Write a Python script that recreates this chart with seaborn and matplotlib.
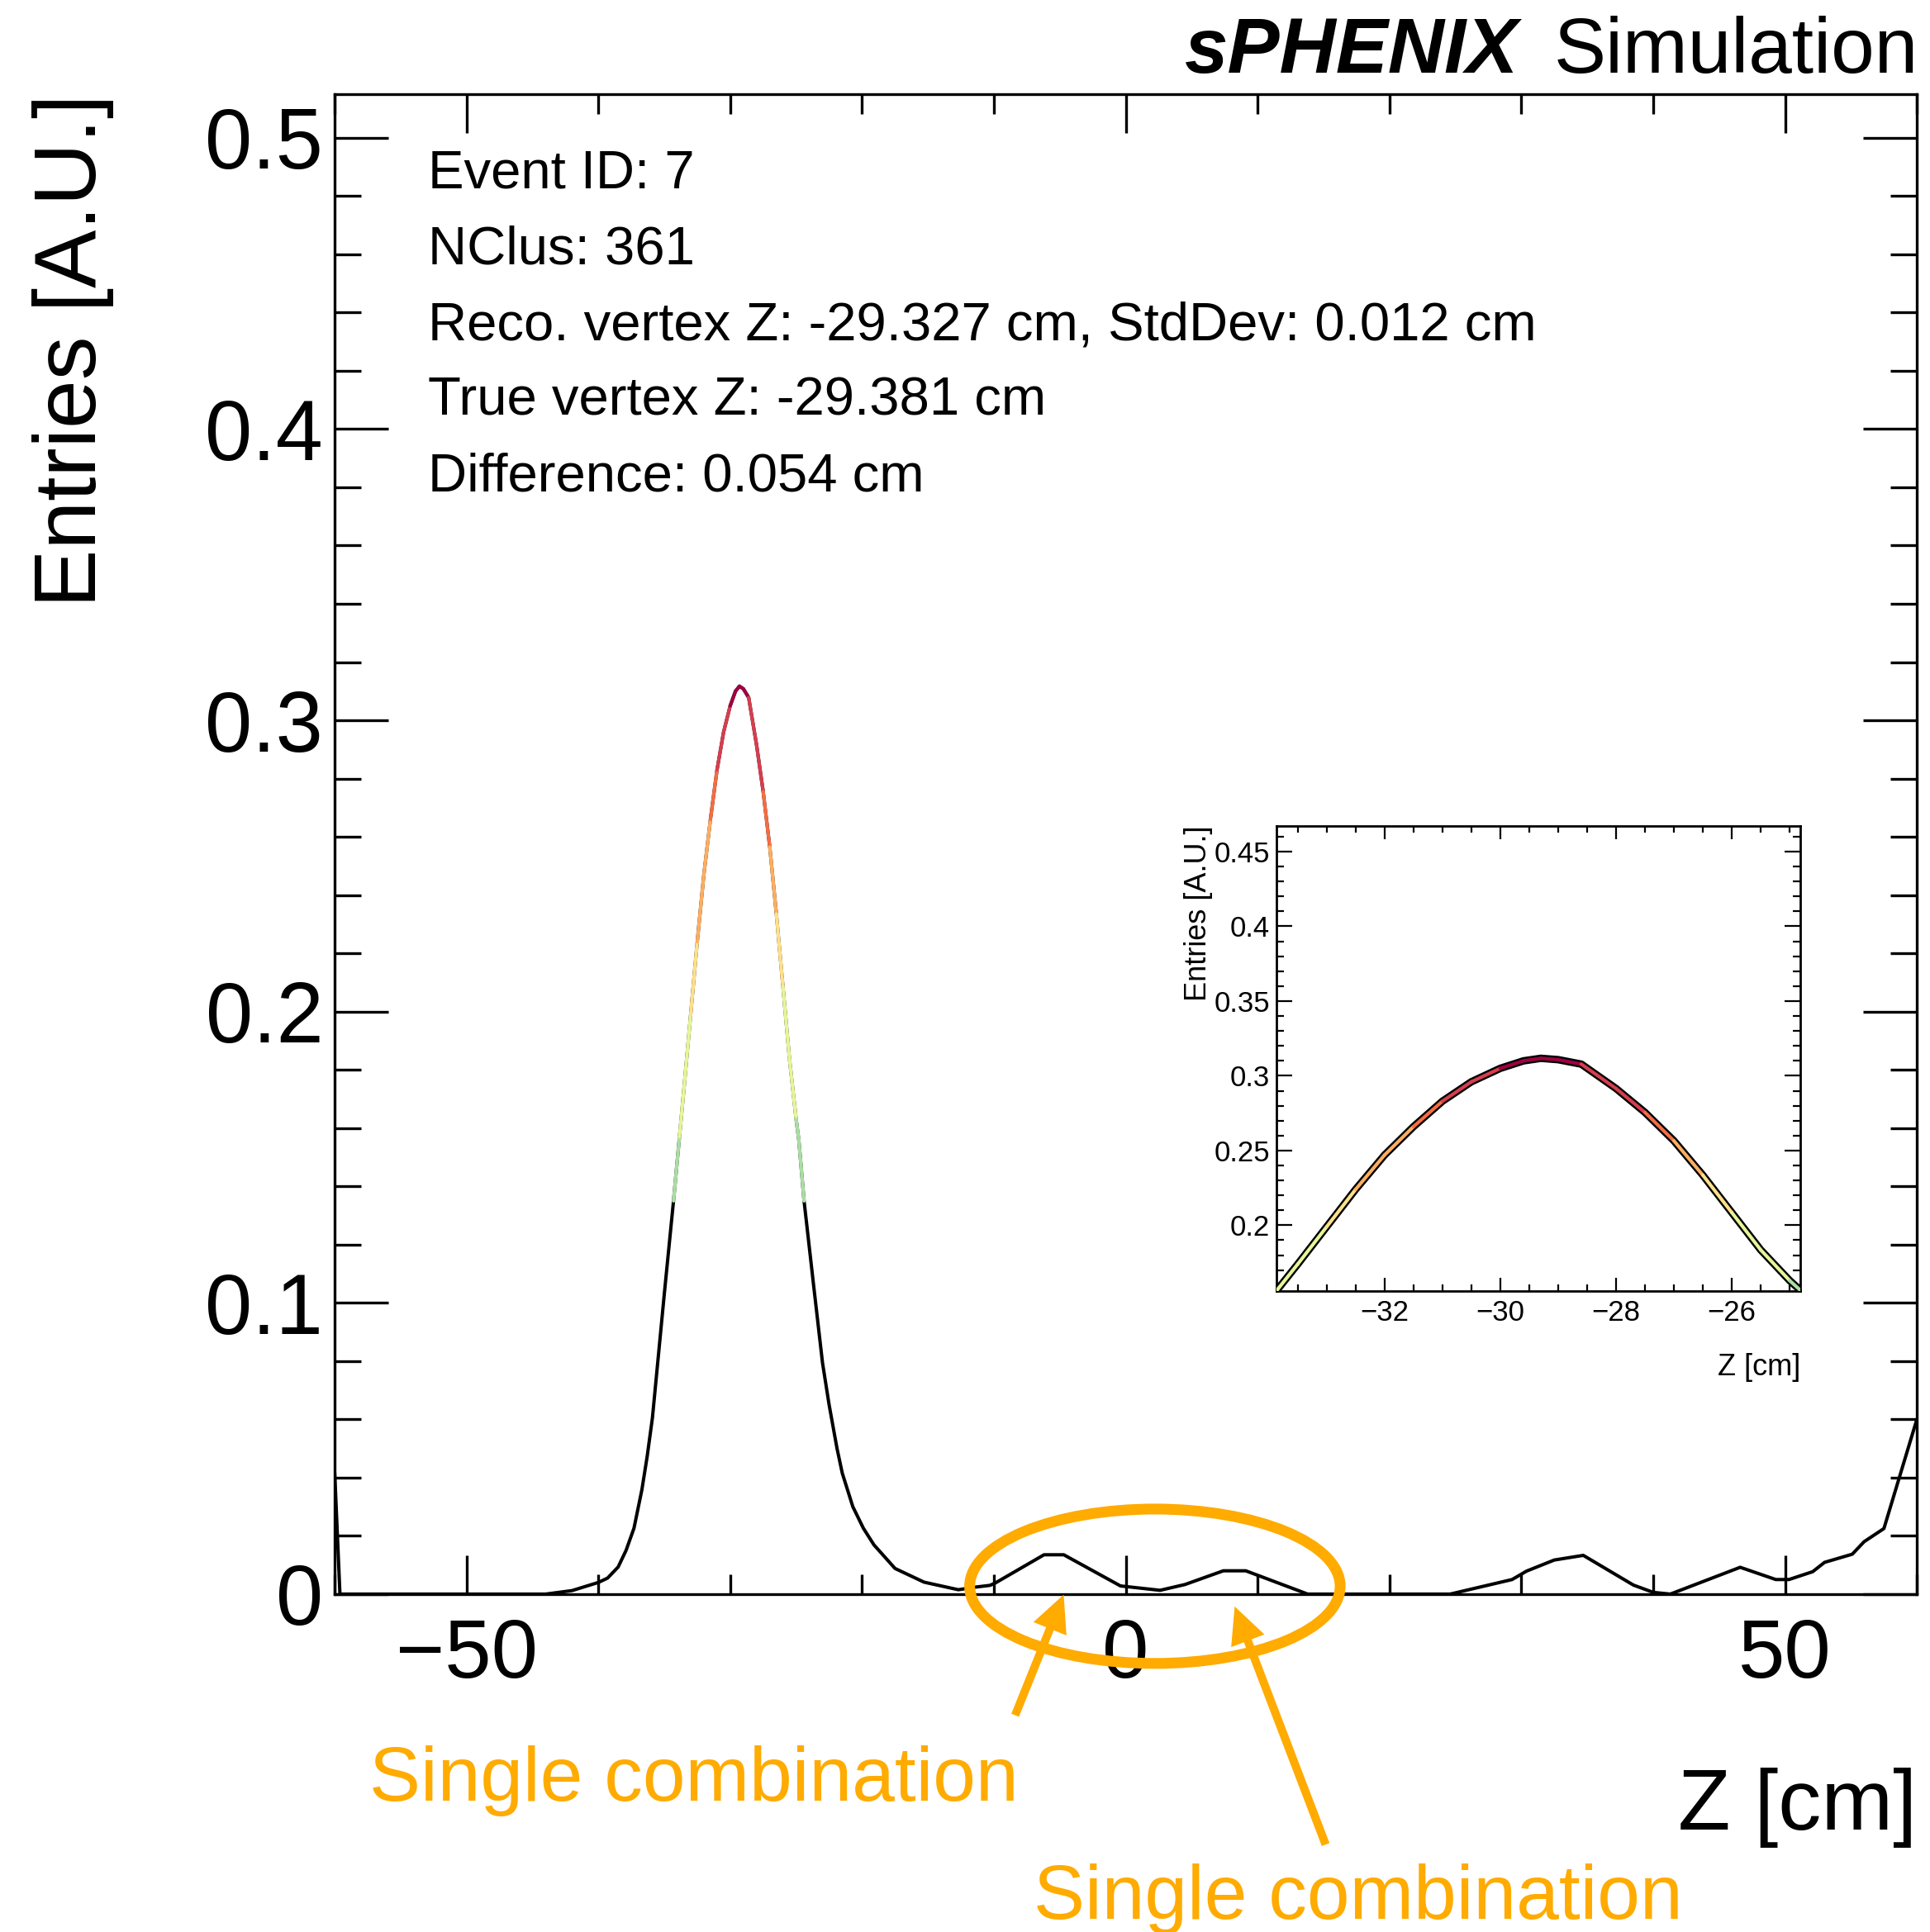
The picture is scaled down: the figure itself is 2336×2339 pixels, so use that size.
import numpy as np
import pandas as pd
import seaborn as sns
import matplotlib.pyplot as plt
from matplotlib.collections import LineCollection
from matplotlib.colors import ListedColormap, BoundaryNorm
from matplotlib.patches import Ellipse, FancyArrowPatch
from matplotlib.ticker import MultipleLocator, FuncFormatter

# vertex finder output (Z in cm vs entries)
z_cm = [-60.0, -59.6, -44.0, -42.0, -40.0, -39.3, -38.5, -37.9, -37.3, -36.7,
        -36.3, -35.9, -35.5, -35.0, -34.3, -33.85, -33.5, -33.0, -32.5, -32.0,
        -31.5, -31.0, -30.5, -30.0, -29.6, -29.3, -29.0, -28.6, -28.0, -27.5,
        -27.0, -26.5, -26.0, -25.5, -25.0, -24.8, -24.4, -23.7, -23.0, -22.5,
        -21.9, -21.5, -20.7, -19.9, -19.1, -17.5, -15.3, -12.7, -11.4, -10.3,
        -9.9, -6.2, -4.7, -0.4, 2.6, 4.5, 7.4, 9.1, 10.1, 13.8,
        24.6, 29.3, 30.4, 32.5, 34.7, 38.5, 40.0, 41.3, 46.6, 49.3,
        50.3, 52.1, 53.0, 55.1, 56.0, 57.5, 60.0]
entries = [0.042, 0.0, 0.0, 0.0012, 0.0040, 0.0055, 0.0093, 0.0150, 0.0226, 0.0358,
           0.0472, 0.0605, 0.0794, 0.103, 0.135, 0.157, 0.174, 0.199, 0.224, 0.247,
           0.266, 0.283, 0.296, 0.305, 0.3100, 0.3117, 0.3108, 0.3078, 0.2915, 0.2755,
           0.2565, 0.2335, 0.2085, 0.1835, 0.163, 0.156, 0.135, 0.107, 0.0794, 0.065,
           0.050, 0.0415, 0.030, 0.0226, 0.0169, 0.0088, 0.0041, 0.0015, 0.0024, 0.0030,
           0.0038, 0.0135, 0.0135, 0.0028, 0.0013, 0.0033, 0.0080, 0.0080, 0.0063, 0.0,
           0.0, 0.0050, 0.0079, 0.0117, 0.0133, 0.0031, 0.0006, 0.0, 0.0092, 0.0050,
           0.0050, 0.0077, 0.0109, 0.0137, 0.0180, 0.0225, 0.060]

# coloured fit section and its colour bands (by height)
fit_range = (-34.3, -24.4)
band_edges = [0.13, 0.165, 0.199, 0.232, 0.260, 0.282, 0.301, 0.32]
band_colors = ["#abdda4", "#e6f598", "#fee08b", "#fdae61", "#f46d43", "#d53e4f", "#9e0142"]

info_lines = ["Event ID: 7",
              "NClus: 361",
              "Reco. vertex Z: -29.327 cm, StdDev: 0.012 cm",
              "True vertex Z: -29.381 cm",
              "Difference: 0.054 cm"]

inset_xlim = (-33.86, -24.81)
inset_ylim = (0.1558, 0.4673)
annot_label = "Single combination"
ORANGE = "#ffab00"

df = pd.DataFrame({"z": z_cm, "entries": entries})

sns.set_theme(style="ticks")
plt.rcParams["font.family"] = ["Liberation Sans", "DejaVu Sans"]
plt.rcParams["axes.linewidth"] = 2.4
for key in ["text.color", "axes.labelcolor", "xtick.color", "ytick.color", "axes.edgecolor"]:
    plt.rcParams[key] = "black"


def fmt(v, pos):
    return f"{v:g}".replace("-", "\u2212")


def fit_collection(lw):
    sub = df[(df.z >= fit_range[0]) & (df.z <= fit_range[1])]
    pts = sub[["z", "entries"]].to_numpy()
    segs = np.stack([pts[:-1], pts[1:]], axis=1)
    mid = (pts[:-1, 1] + pts[1:, 1]) / 2
    lc = LineCollection(segs, cmap=ListedColormap(band_colors),
                        norm=BoundaryNorm(band_edges, len(band_colors)),
                        linewidths=lw, capstyle="round", zorder=4)
    lc.set_array(mid)
    return lc


fig = plt.figure(figsize=(23.36, 23.39), dpi=100)
fig.patch.set_facecolor("white")
ax = fig.add_axes([0.1734, 0.1749, 0.8198, 0.7764])

sns.lineplot(data=df, x="z", y="entries", ax=ax, color="black", linewidth=2.9,
             estimator=None, sort=False)
ax.add_collection(fit_collection(3.0))

ax.set_xlim(-60, 60)
ax.set_ylim(0, 0.515)
ax.set_xlabel("")
ax.set_ylabel("")
ax.xaxis.set_major_locator(MultipleLocator(50))
ax.xaxis.set_minor_locator(MultipleLocator(10))
ax.yaxis.set_major_locator(MultipleLocator(0.1))
ax.yaxis.set_minor_locator(MultipleLocator(0.02))
ax.xaxis.set_major_formatter(FuncFormatter(fmt))
ax.yaxis.set_major_formatter(FuncFormatter(fmt))
ax.tick_params(which="both", direction="in", top=True, right=True, width=2.4,
               color="black", labelcolor="black")
ax.tick_params(axis="y", which="major", length=47, pad=10, labelsize=74)
ax.tick_params(axis="y", which="minor", length=23)
ax.tick_params(axis="x", which="major", length=34, pad=20, labelsize=73)
ax.tick_params(axis="x", which="minor", length=17)

ax.text(-0.1655, 1.0, "Entries [A.U.]", rotation=90, ha="center", va="top",
        fontsize=76, transform=ax.transAxes)
ax.text(1.0, -0.1569, "Z [cm]", ha="right", va="baseline", fontsize=75,
        transform=ax.transAxes)

for i, line in enumerate(info_lines):
    ax.text(0.059, 0.9372 - i * 0.0504, line, ha="left", va="baseline",
            fontsize=47, transform=ax.transAxes)

# title
sim = fig.text(0.9938, 0.9624, "Simulation", ha="right", va="baseline", fontsize=68)
ax.annotate("sPHENIX", xy=(0, 0), xycoords=sim, xytext=(-42, 0),
            textcoords="offset pixels", ha="right", va="bottom", fontsize=68,
            fontweight="bold", fontstyle="italic", annotation_clip=False)

# annotations
ax.add_patch(Ellipse((2.21, 0.0027), 28.1, 0.053, fill=False, edgecolor=ORANGE,
                     linewidth=9.4, clip_on=False, zorder=6))
for tail, tip in [((-8.39, -0.0416), (-4.71, -0.0002)), ((15.16, -0.086), (8.26, -0.00425))]:
    ax.add_patch(FancyArrowPatch(tail, tip,
                                 arrowstyle="simple,head_length=32,head_width=31,tail_width=7.2",
                                 mutation_scale=1, color=ORANGE, linewidth=0,
                                 shrinkA=0, shrinkB=0, clip_on=False, zorder=6))
ax.text(-57.35, -0.0709, annot_label, color=ORANGE, fontsize=67, ha="left",
        va="baseline", clip_on=False)
ax.text(-7.0, -0.1114, annot_label, color=ORANGE, fontsize=67, ha="left",
        va="baseline", clip_on=False)

# inset zoom on the peak
axin = fig.add_axes([0.6616, 0.3316, 0.2714, 0.2410])
sns.lineplot(data=df, x="z", y="entries", ax=axin, color="black", linewidth=6.5,
             estimator=None, sort=False)
axin.add_collection(fit_collection(3.0))
axin.set_xlim(*inset_xlim)
axin.set_ylim(*inset_ylim)
axin.set_xlabel("")
axin.set_ylabel("")
axin.xaxis.set_major_locator(MultipleLocator(2))
axin.xaxis.set_minor_locator(MultipleLocator(0.5))
axin.yaxis.set_major_locator(MultipleLocator(0.05))
axin.yaxis.set_minor_locator(MultipleLocator(0.01))
axin.xaxis.set_major_formatter(FuncFormatter(fmt))
axin.yaxis.set_major_formatter(FuncFormatter(fmt))
axin.tick_params(which="both", direction="in", top=True, right=True, width=1.6,
                 color="black", labelcolor="black", labelsize=25)
axin.tick_params(axis="x", which="major", length=11.5, pad=7)
axin.tick_params(axis="x", which="minor", length=6)
axin.tick_params(axis="y", which="major", length=13.5, pad=6)
axin.tick_params(axis="y", which="minor", length=6.5)
for s in axin.spines.values():
    s.set_linewidth(2.0)
axin.text(-0.1506, 1.0, "Entries [A.U.]", rotation=90, ha="center", va="top",
          fontsize=26, transform=axin.transAxes)
axin.text(1.0, -0.180, "Z [cm]", ha="right", va="baseline", fontsize=26,
          transform=axin.transAxes)

fig.savefig("out.png", dpi=100, facecolor="white")
